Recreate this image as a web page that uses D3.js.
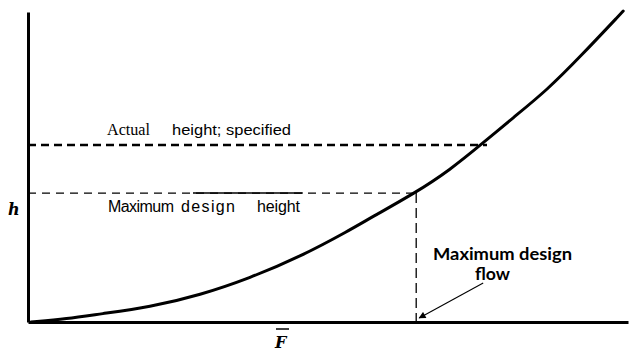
<!DOCTYPE html>
<html>
<head>
<meta charset="utf-8">
<script src="https://cdn.jsdelivr.net/npm/d3@7"></script>
<style>
  body { margin: 0; background: #fff; }
  svg { display: block; }
</style>
</head>
<body>
<div id="chart"></div>
<script>
// curve (F in %, h in %)
const flowF   = [0.5, 6.5, 12.0, 20.3, 28.7, 37.0, 45.3, 53.7, 57.0, 64.5, 70.3, 75.8, 80.8, 86.5, 92.0, 99.2];
const heightH = [0,   1.0, 2.6,  4.8,  8.7,  14.2, 21.0, 29.7, 33.5, 41.6, 49.0, 57.7, 65.8, 74.8, 85.5, 100.3];

const designFlow = 64.7, designHeight = 41.6;
const actualFlow = 76.5, actualHeight = 57.1;
const solidBit = [27.5, 45.8]; // solid piece on the design height line

const width = 629, height = 356;

const x = d3.scaleLinear().domain([0, 100]).range([28, 628]);
const y = d3.scaleLinear().domain([0, 100]).range([322, 12]);

const svg = d3.select("#chart").append("svg")
  .attr("width", width)
  .attr("height", height);

// axes, no ticks
svg.append("g")
  .attr("transform", "translate(0," + y(0) + ")")
  .call(d3.axisBottom(x).tickValues([]).tickSizeOuter(0))
  .select(".domain").attr("stroke-width", 3).attr("stroke", "#000");

svg.append("g")
  .attr("transform", "translate(" + x(0) + ",0)")
  .call(d3.axisLeft(y).tickValues([]).tickSizeOuter(0))
  .select(".domain").attr("stroke-width", 3).attr("stroke", "#000");

// dashed guides
svg.append("line")
  .attr("x1", x(0)).attr("x2", x(actualFlow))
  .attr("y1", y(actualHeight)).attr("y2", y(actualHeight))
  .attr("stroke", "#000").attr("stroke-width", 2.4)
  .attr("stroke-dasharray", "8,5");

svg.append("line")
  .attr("x1", x(0)).attr("x2", x(designFlow))
  .attr("y1", y(designHeight)).attr("y2", y(designHeight))
  .attr("stroke", "#000").attr("stroke-width", 1.3)
  .attr("stroke-dasharray", "8,6");

svg.append("line")
  .attr("x1", x(solidBit[0])).attr("x2", x(solidBit[1]))
  .attr("y1", y(designHeight)).attr("y2", y(designHeight))
  .attr("stroke", "#000").attr("stroke-width", 1.5);

svg.append("line")
  .attr("x1", x(designFlow)).attr("x2", x(designFlow))
  .attr("y1", y(designHeight)).attr("y2", y(0))
  .attr("stroke", "#000").attr("stroke-width", 1.3)
  .attr("stroke-dasharray", "10,5");

// the curve
const pts = flowF.map((f, i) => [f, heightH[i]]);
svg.append("path")
  .datum(pts)
  .attr("fill", "none")
  .attr("stroke", "#000")
  .attr("stroke-width", 3)
  .attr("stroke-linecap", "round")
  .attr("d", d3.line().x(d => x(d[0])).y(d => y(d[1])).curve(d3.curveBasis));

// arrow to max design flow
svg.append("defs").append("marker")
  .attr("id", "head")
  .attr("viewBox", "0 0 10 10")
  .attr("refX", 9).attr("refY", 5)
  .attr("markerWidth", 9).attr("markerHeight", 7)
  .attr("markerUnits", "userSpaceOnUse")
  .attr("orient", "auto")
  .append("path").attr("d", "M0,0L10,5L0,10z").attr("fill", "#000");

svg.append("line")
  .attr("x1", x(designFlow) + 67).attr("y1", y(0) - 39)
  .attr("x2", x(designFlow) + 3).attr("y2", y(0) - 4)
  .attr("stroke", "#000").attr("stroke-width", 1.1)
  .attr("marker-end", "url(#head)");

// labels
const sans = "Liberation Sans, Arial, sans-serif";

svg.append("text")
  .attr("x", 107).attr("y", 135)
  .attr("textLength", 43).attr("lengthAdjust", "spacingAndGlyphs")
  .style("font-family", "Liberation Serif, serif")
  .style("font-size", "16px")
  .text("Actual");

svg.append("text")
  .attr("x", 172).attr("y", 135)
  .attr("textLength", 119).attr("lengthAdjust", "spacingAndGlyphs")
  .style("font-family", sans)
  .style("font-size", "15.5px")
  .text("height; specified");

const mdhWords = ["Maximum", "design", "height"];
const mdhX = [108, 181, 257], mdhW = [66, 54, 43];
svg.selectAll(".mdh").data(mdhWords).enter().append("text")
  .attr("class", "mdh")
  .attr("x", (d, i) => mdhX[i]).attr("y", 212)
  .attr("textLength", (d, i) => mdhW[i]).attr("lengthAdjust", "spacing")
  .style("font-family", sans)
  .style("font-size", "16px")
  .text(d => d);

svg.append("text")
  .attr("x", 433).attr("y", 260)
  .attr("textLength", 139).attr("lengthAdjust", "spacingAndGlyphs")
  .style("font-family", "Lato, sans-serif")
  .style("font-size", "17px")
  .style("font-weight", "bold")
  .text("Maximum design");
svg.append("text")
  .attr("x", 475).attr("y", 280)
  .attr("textLength", 35).attr("lengthAdjust", "spacingAndGlyphs")
  .style("font-family", "Lato, sans-serif")
  .style("font-size", "17px")
  .style("font-weight", "bold")
  .text("flow");

svg.append("text")
  .attr("x", 8).attr("y", 215)
  .style("font-family", "DejaVu Serif, serif")
  .style("font-size", "16px")
  .style("font-weight", "bold")
  .style("font-style", "italic")
  .text("h");

svg.append("text")
  .attr("x", 275).attr("y", 348)
  .style("font-family", "DejaVu Serif, serif")
  .style("font-size", "16px")
  .style("font-weight", "bold")
  .style("font-style", "italic")
  .text("F");
svg.append("line")
  .attr("x1", 276).attr("x2", 289)
  .attr("y1", 329).attr("y2", 329)
  .attr("stroke", "#000").attr("stroke-width", 1.5);
</script>
</body>
</html>
